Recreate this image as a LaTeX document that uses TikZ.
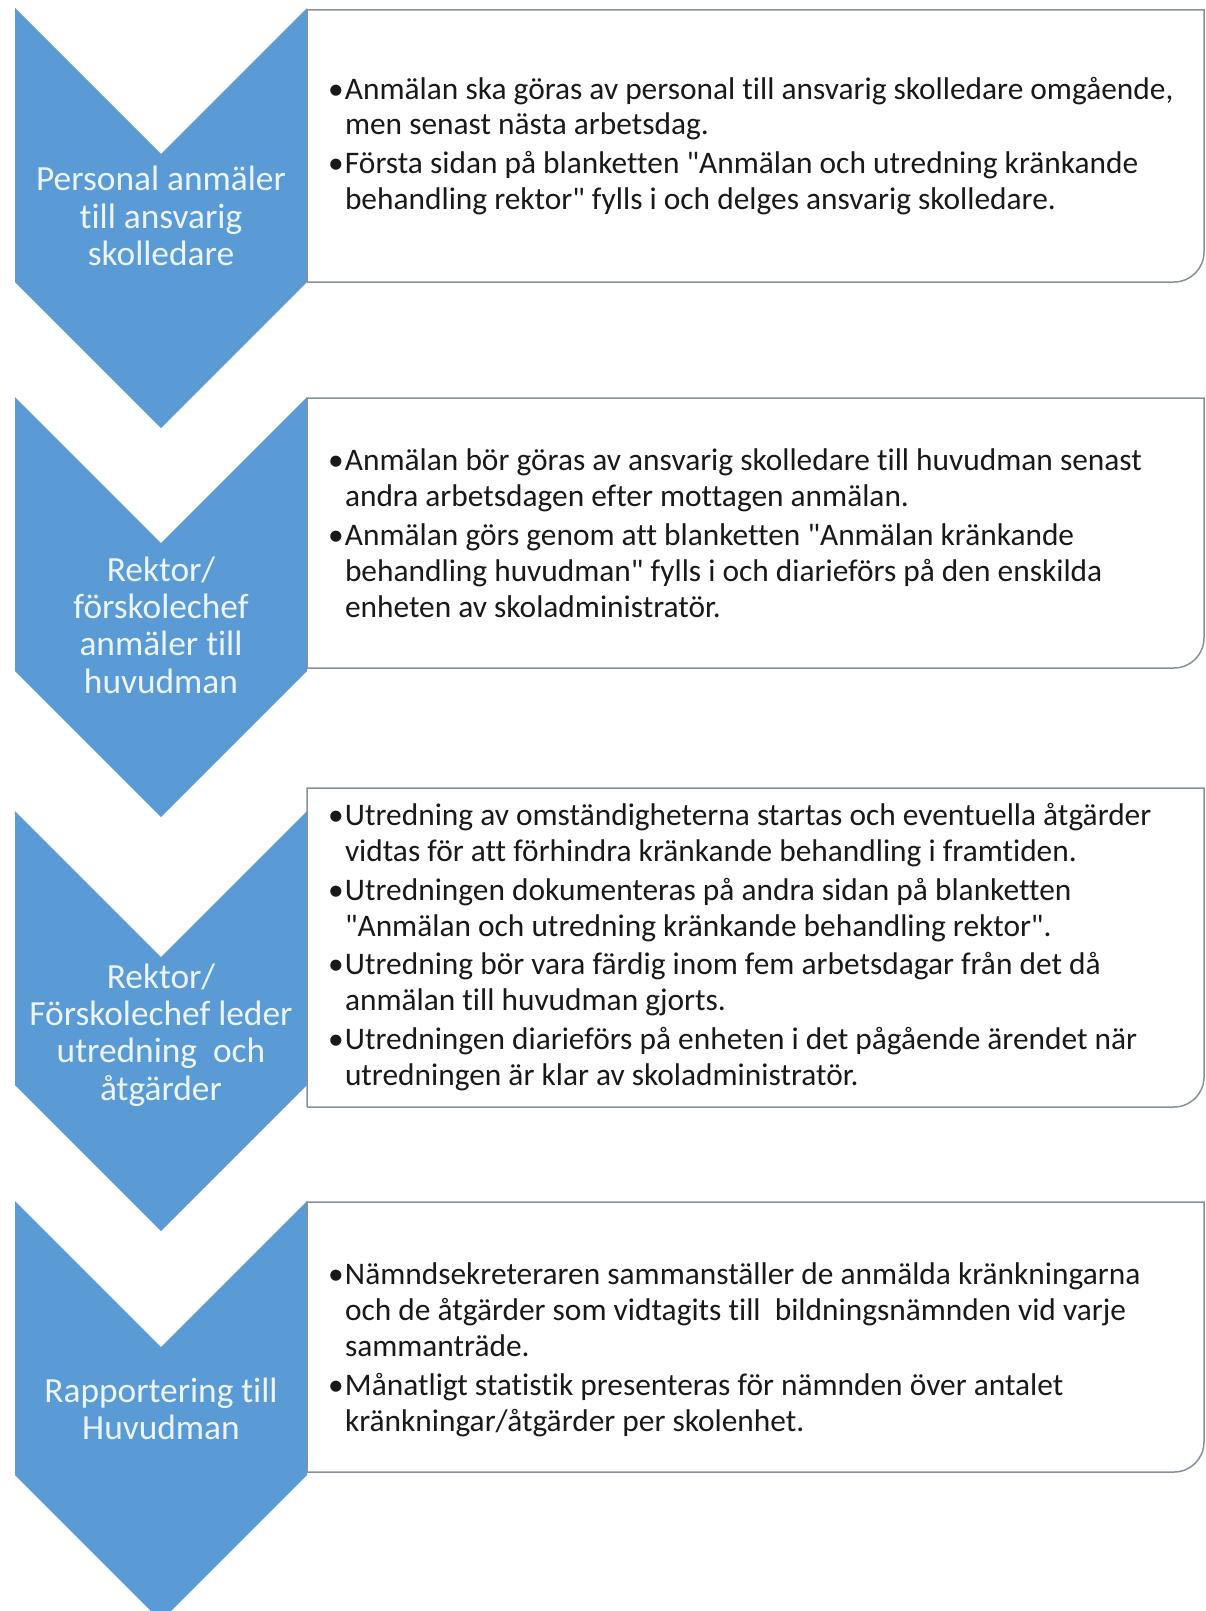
\documentclass[tikz,border=0pt]{standalone}
\usepackage{fontspec}
\setmainfont{Carlito}[Ligatures={TeXOff,CommonOff}]
\usetikzlibrary{positioning}
\definecolor{chevblue}{RGB}{91,155,213}
\definecolor{chevtext}{RGB}{236,246,250}
\definecolor{boxline}{RGB}{135,145,155}
\definecolor{punkttext}{RGB}{25,25,25}
\tikzset{
    % blue chevron
    chev/.style={fill=chevblue},
    % outline of the text boxes
    ruta/.style={draw=boxline, line width=1.5bp, fill=white}
}
\newcommand{\pktbredd}{21bp}
\newcommand{\pkt}{\makebox[\pktbredd][l]{\hspace{4bp}\textbullet}}
\newcommand{\ind}{\hspace*{\pktbredd}}

\begin{document}
\begin{tikzpicture}[x=1bp, y=-1bp, outer sep=0pt, inner sep=0pt]
\tikzstyle{steg}=[text=chevtext, align=center, font=\fontsize{35.5}{37.5}\selectfont]
\tikzstyle{info}=[text=punkttext, align=left, anchor=west, font=\fontsize{31.5}{36}\selectfont]

\useasboundingbox (0,0) rectangle (1205,1611);
\clip (0,0) rectangle (1205,1611);
\fill[white] (0,0) rectangle (1205,1611);

% chevrons
\fill[chev] (15,8) -- ++(146,146) -- ++(146,-146) -- ++(0,274) -- ++(-146,146) -- ++(-146,-146) -- cycle;
\fill[chev] (15,397) -- ++(146,146) -- ++(146,-146) -- ++(0,274) -- ++(-146,146) -- ++(-146,-146) -- cycle;
\fill[chev] (15,811) -- ++(146,146) -- ++(146,-146) -- ++(0,274) -- ++(-146,146) -- ++(-146,-146) -- cycle;
\fill[chev] (15,1201) -- ++(146,146) -- ++(146,-146) -- ++(0,274) -- ++(-146,146) -- ++(-146,-146) -- cycle;

% boxes
\draw[ruta] (307,282) -- (307,10) -- (1204,10) [rounded corners=30bp] -- (1204,282) -- (307,282);
\draw[ruta] (307,668) -- (307,398) -- (1204,398) [rounded corners=30bp] -- (1204,668) -- (307,668);
\draw[ruta] (307,1107) -- (307,788) -- (1204,788) [rounded corners=30bp] -- (1204,1107) -- (307,1107);
\draw[ruta] (307,1472) -- (307,1202) -- (1204,1202) [rounded corners=30bp] -- (1204,1472) -- (307,1472);

\node[steg] (steg1) at (161,216) {Personal anmäler\\till ansvarig\\skolledare};
\node[steg] (steg2) at (161,625) {Rektor/\\förskolechef\\anmäler till\\huvudman};
\node[steg] (steg3) at (161,1035) {Rektor/\\Förskolechef leder\\utredning\ \ och\\åtgärder};
\node[steg] (steg4) at (161,1409) {Rapportering till\\Huvudman};

\node[info] (info1) at (324,146) {\pkt Anmälan ska göras av personal till ansvarig skolledare omgående,\\
  \ind men senast nästa arbetsdag.\\[3bp]
  \pkt Första sidan på blanketten "Anmälan och utredning kränkande\\
  \ind behandling rektor" fylls i och delges ansvarig skolledare.};

\node[info] (info2) at (324,533) {\pkt Anmälan bör göras av ansvarig skolledare till huvudman senast\\
  \ind andra arbetsdagen efter mottagen anmälan.\\[3bp]
  \pkt Anmälan görs genom att blanketten "Anmälan kränkande\\
  \ind behandling huvudman" fylls i och diarieförs på den enskilda\\
  \ind enheten av skoladministratör.};

\node[info] (info3) at (324,947) {\pkt Utredning av omständigheterna startas och eventuella åtgärder\\
  \ind vidtas för att förhindra kränkande behandling i framtiden.\\[3bp]
  \pkt Utredningen dokumenteras på andra sidan på blanketten\\
  \ind "Anmälan och utredning kränkande behandling rektor".\\[3bp]
  \pkt Utredning bör vara färdig inom fem arbetsdagar från det då\\
  \ind anmälan till huvudman gjorts.\\[3bp]
  \pkt Utredningen diarieförs på enheten i det pågående ärendet när\\
  \ind utredningen är klar av skoladministratör.};

\node[info] (info4) at (324,1350) {\pkt Nämndsekreteraren sammanställer de anmälda kränkningarna\\
  \ind och de åtgärder som vidtagits till\ \ bildningsnämnden vid varje\\
  \ind sammanträde.\\[3bp]
  \pkt Månatligt statistik presenteras för nämnden över antalet\\
  \ind kränkningar/åtgärder per skolenhet.};

\end{tikzpicture}
\end{document}
